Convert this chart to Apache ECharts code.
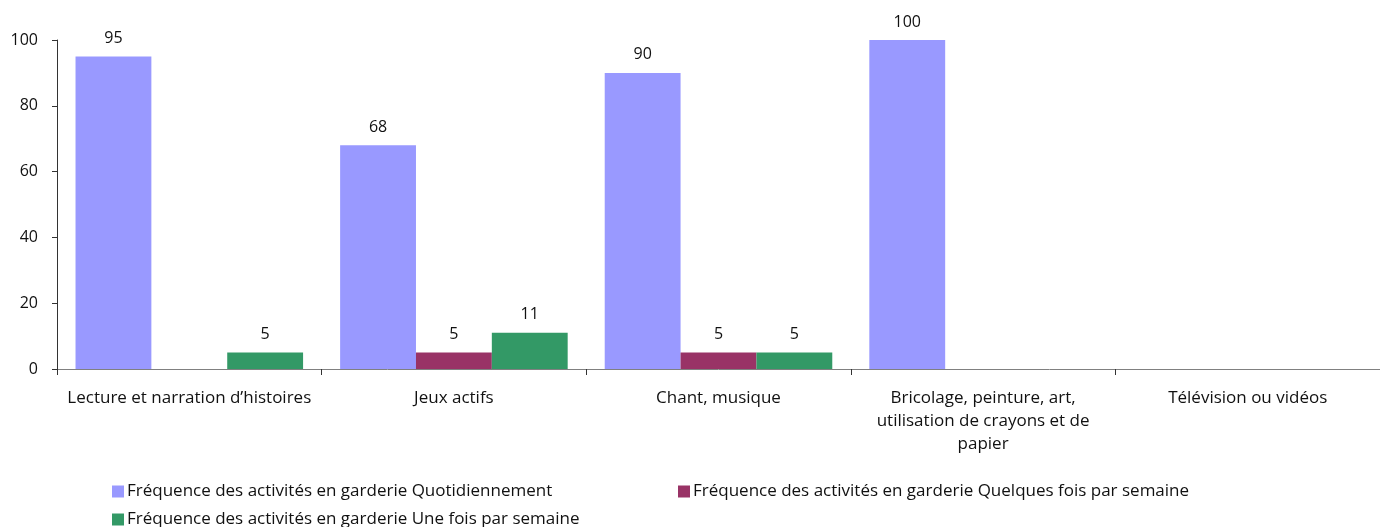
<!DOCTYPE html>
<html>
<head>
<meta charset="utf-8">
<script src="https://cdn.jsdelivr.net/npm/echarts@6/dist/echarts.min.js"></script>
<style>
  html, body { margin: 0; padding: 0; background: #fff; }
  #chart { width: 1380px; height: 527px; }
</style>
</head>
<body>
<div id="chart"></div>
<script>
// categories and values
const categories = [
    "Lecture et narration d\u2019histoires",
    "Jeux actifs",
    "Chant, musique",
    "Bricolage, peinture, art,\nutilisation de crayons et de\npapier",
    "T\u00e9l\u00e9vision ou vid\u00e9os"
];
const seriesNames = [
    "Fr\u00e9quence des activit\u00e9s en garderie Quotidiennement",
    "Fr\u00e9quence des activit\u00e9s en garderie Quelques fois par semaine",
    "Fr\u00e9quence des activit\u00e9s en garderie Une fois par semaine"
];
const quotidien = [95, 68, 90, 100, "-"];
const quelquesFois = ["-", 5, 5, "-", "-"];
const uneFois = [5, 11, 5, "-", "-"];
const yTicks = [0, 20, 40, 60, 80, 100];

const colors = ["#9999ff", "#993366", "#339966"];
const fontFamily = "'Open Sans', sans-serif";

let myChart = echarts.init(document.getElementById("chart"));

function makeBar(name, values, color) {
    return {
        name: name,
        type: "bar",
        data: values,
        barGap: "0%",
        barCategoryGap: "14%",
        itemStyle: { color: color },
        label: {
            show: true,
            position: "top",
            distance: 10,
            color: "#111",
            fontSize: 16,
            fontFamily: fontFamily
        }
    };
}

function makeLegend(name, left, top) {
    return {
        data: [name],
        left: left,
        top: top,
        itemWidth: 12,
        itemHeight: 12,
        icon: "rect",
        itemGap: 4,
        textStyle: { fontSize: 17, color: "#111", fontFamily: fontFamily, padding: [0, 0, 0, -2] }
    };
}

let option = {
    animation: false,
    backgroundColor: "#fff",
    grid: { left: 57, top: 40, width: 1327, height: 329, containLabel: false },
    legend: [
        makeLegend(seriesNames[0], 107, 478),
        makeLegend(seriesNames[1], 673, 478),
        makeLegend(seriesNames[2], 107, 506)
    ],
    xAxis: {
        type: "category",
        data: categories,
        axisLine: { lineStyle: { color: "#808080", width: 1 } },
        axisTick: { show: true, length: 6, lineStyle: { color: "#333" } },
        axisLabel: {
            color: "#111",
            fontSize: 17,
            fontFamily: fontFamily,
            lineHeight: 23,
            margin: 18,
            interval: 0
        }
    },
    yAxis: {
        type: "value",
        min: yTicks[0],
        max: yTicks[yTicks.length - 1],
        interval: 20,
        splitLine: { show: false },
        axisLine: { show: true, lineStyle: { color: "#333" } },
        axisTick: { show: true, length: 5, lineStyle: { color: "#333" } },
        axisLabel: { color: "#111", fontSize: 16, fontFamily: fontFamily, margin: 19 }
    },
    series: [
        makeBar(seriesNames[0], quotidien, colors[0]),
        makeBar(seriesNames[1], quelquesFois, colors[1]),
        makeBar(seriesNames[2], uneFois, colors[2])
    ]
};

myChart.setOption(option);
</script>
</body>
</html>
